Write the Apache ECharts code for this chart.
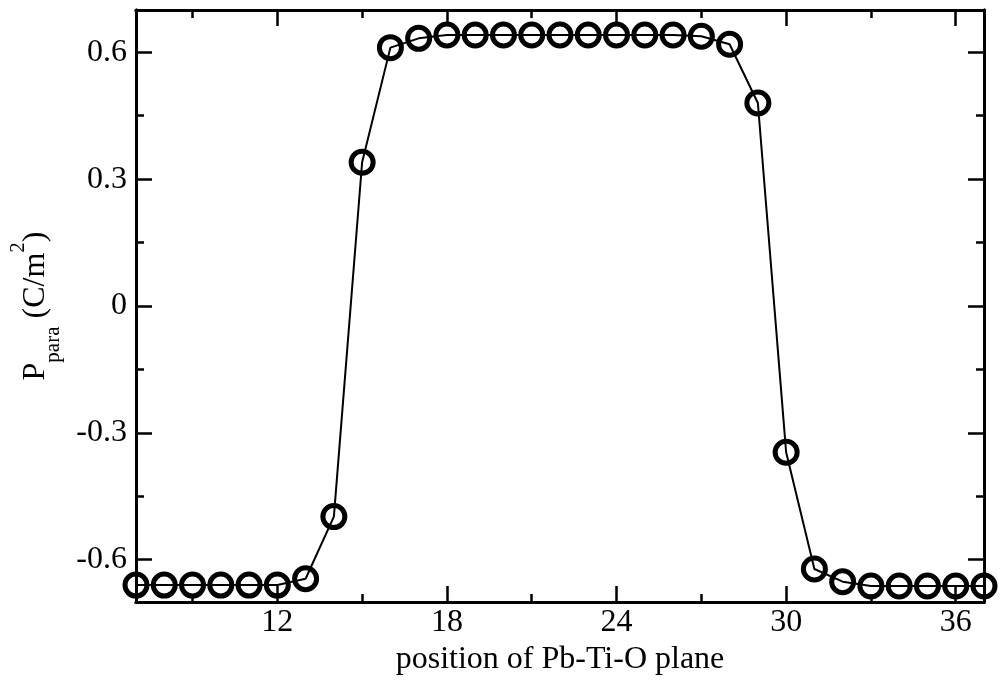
<!DOCTYPE html>
<html>
<head>
<meta charset="utf-8">
<script src="https://cdn.jsdelivr.net/npm/echarts@6/dist/echarts.min.js"></script>
<style>
html,body{margin:0;padding:0;background:#fff;}
#main{width:1003px;height:681px;}
</style>
</head>
<body>
<div id="main"></div>
<script>
// Data
const positions = [7,8,9,10,11,12,13,14,15,16,17,18,19,20,21,22,23,24,25,26,27,28,29,30,31,32,33,34,35,36,37];
const pPara = [-0.66,-0.66,-0.66,-0.66,-0.66,-0.66,-0.645,-0.498,0.34,0.611,0.633,0.641,0.641,0.641,0.641,0.641,0.641,0.641,0.641,0.641,0.638,0.619,0.48,-0.346,-0.622,-0.652,-0.662,-0.662,-0.662,-0.662,-0.662];
const xMajorTicks = [12,18,24,30,36];
const xMinorTicks = [9,15,21,27,33];
const yMajorTicks = [-0.6,-0.3,0,0.3,0.6];
const yMinorTicks = [-0.45,-0.15,0.15,0.45];
const xTitle = 'position of Pb-Ti-O plane';

const FONT = '"Liberation Serif", "DejaVu Serif", serif';
const FS = 32;
const X_MIN = 7, X_MAX = 37, Y_MIN = -0.7, Y_MAX = 0.7;

function xAx(pos, ticks, len, labels, extra) {
  return Object.assign({
    type: 'value', position: pos, min: X_MIN, max: X_MAX,
    axisLine: { show: true, onZero: false, lineStyle: { color: '#000', width: 3 } },
    axisTick: { show: true, inside: true, length: len, customValues: ticks, lineStyle: { color: '#000', width: 2.5 } },
    axisLabel: labels ? { show: true, customValues: ticks, margin: 5, color: '#000', fontFamily: FONT, fontSize: FS } : { show: false },
    splitLine: { show: false }
  }, extra || {});
}
function yAx(pos, ticks, len, labels, extra) {
  return Object.assign({
    type: 'value', position: pos, min: Y_MIN, max: Y_MAX,
    axisLine: { show: true, onZero: false, lineStyle: { color: '#000', width: 3 } },
    axisTick: { show: true, inside: true, length: len, customValues: ticks, lineStyle: { color: '#000', width: 2.5 } },
    axisLabel: labels ? { show: true, customValues: ticks, margin: 9, color: '#000', fontFamily: FONT, fontSize: FS,
      formatter: v => (Math.abs(v) < 1e-9 ? '0' : String(+v.toFixed(2))) } : { show: false },
    splitLine: { show: false }
  }, extra || {});
}

const chart = echarts.init(document.getElementById('main'), null, { renderer: 'canvas' });
chart.setOption({
  backgroundColor: '#fff',
  animation: false,
  grid: { left: 133, right: 19, top: 10, bottom: 76, containLabel: false },
  xAxis: [
    xAx('bottom', xMajorTicks, 16, true, {
      name: xTitle, nameLocation: 'middle', nameGap: 42,
      nameTextStyle: { color: '#000', fontFamily: FONT, fontSize: FS }
    }),
    xAx('top', xMajorTicks, 16, false),
    xAx('bottom', xMinorTicks, 8, false),
    xAx('top', xMinorTicks, 8, false)
  ],
  yAxis: [
    yAx('left', yMajorTicks, 16, true, {
      name: '{m|P}{s|para}{m| (C/m}{u|2}{m|)}',
      nameLocation: 'middle', nameGap: 72, nameRotate: 90,
      nameTextStyle: {
        color: '#000', fontFamily: FONT, fontSize: FS,
        rich: {
          m: { color: '#000', fontFamily: FONT, fontSize: FS, lineHeight: 56, verticalAlign: 'middle' },
          s: { color: '#000', fontFamily: FONT, fontSize: 21, verticalAlign: 'bottom' },
          u: { color: '#000', fontFamily: FONT, fontSize: 21, verticalAlign: 'top' }
        }
      }
    }),
    yAx('right', yMajorTicks, 16, false),
    yAx('left', yMinorTicks, 8, false),
    yAx('right', yMinorTicks, 8, false)
  ],
  series: [{
    type: 'line',
    xAxisIndex: 0, yAxisIndex: 0,
    data: positions.map((x, i) => [x, pPara[i]]),
    clip: false,
    symbol: 'circle',
    symbolSize: 22,
    showAllSymbol: true,
    lineStyle: { color: '#000', width: 2 },
    itemStyle: { color: 'rgba(0,0,0,0)', borderColor: '#000', borderWidth: 5 },
    z: 5
  }]
});
</script>
</body>
</html>
